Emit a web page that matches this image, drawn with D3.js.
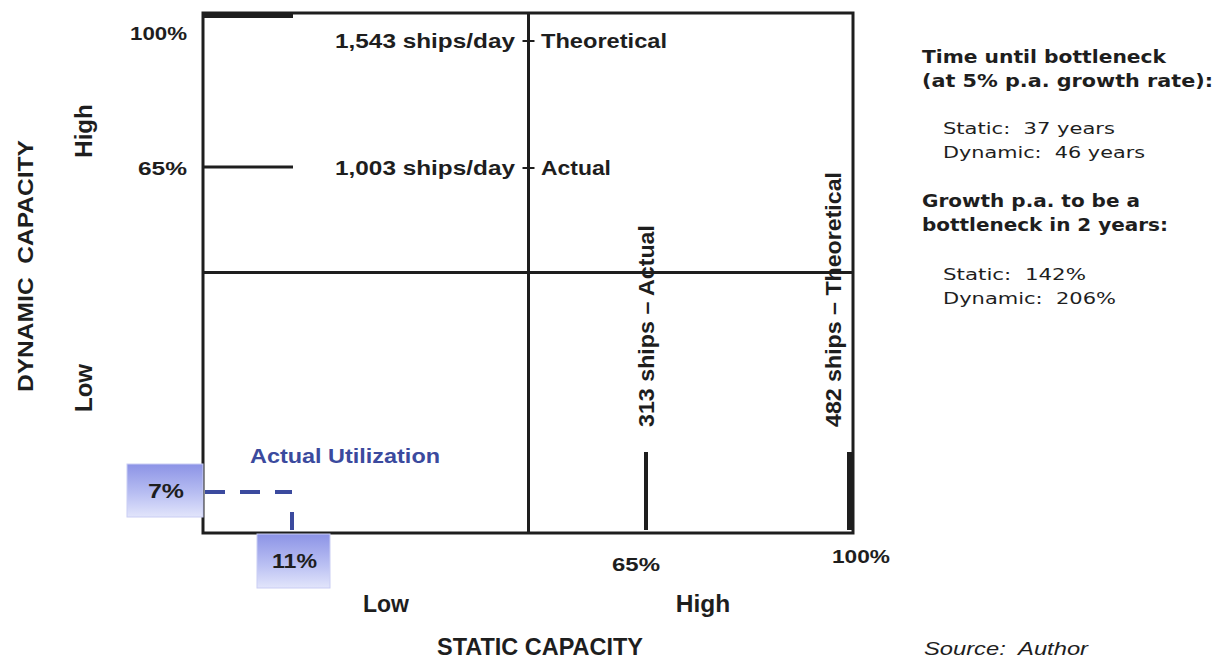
<!DOCTYPE html>
<html>
<head>
<meta charset="utf-8">
<script src="https://cdn.jsdelivr.net/npm/d3@7"></script>
<style>
  html, body { margin: 0; padding: 0; background: #fff; }
  svg { display: block; }
</style>
</head>
<body>
<svg id="chart" width="1221" height="660"></svg>
<script>
// ---------------- DATA ----------------
const staticTickPcts = [65, 100];
const staticTickLabels = ["65%", "100%"];
const staticShips = ["313 ships", "482 ships"];
const staticKinds = ["Actual", "Theoretical"];

const dynamicTickPcts = [100, 65];
const dynamicTickLabels = ["100%", "65%"];
const dynamicShips = ["1,543 ships/day", "1,003 ships/day"];
const dynamicKinds = ["Theoretical", "Actual"];

const utilStaticPct = 11;
const utilDynamicPct = 7;
const utilLabel = "Actual Utilization";

const quadrantLevels = ["Low", "High"];
const xTitle = "STATIC CAPACITY";
const yTitle = "DYNAMIC  CAPACITY";

const sideHeading1 = ["Time until bottleneck", "(at 5% p.a. growth rate):"];
const sideLines1 = ["Static:  37 years", "Dynamic:  46 years"];
const sideHeading2 = ["Growth p.a. to be a", "bottleneck in 2 years:"];
const sideLines2 = ["Static:  142%", "Dynamic:  206%"];
const sourceNote = "Source:  Author";

// ---------------- LAYOUT ----------------
const svg = d3.select("#chart");
const box = { left: 203, top: 13, right: 853, bottom: 533 };
const midX = (box.left + box.right) / 2 + 0.5;
const midY = (box.top + box.bottom) / 2 + 0.5;

// schematic (piecewise) scales
const x = d3.scaleLinear().domain([0, utilStaticPct, 65, 100]).range([box.left, 292, 646, 850]);
const y = d3.scaleLinear().domain([0, utilDynamicPct, 65, 100]).range([box.bottom, 492, 167, 15]);

const ARIAL = "'Liberation Sans', Arial, sans-serif";
const NARROW = "'Liberation Sans Narrow', 'Liberation Sans', Arial, sans-serif";
const VERD = "'DejaVu Sans', Verdana, sans-serif";
const ink = "#1e1e1e";
const blue = "#3b4a9e";

function fit(sel, w) {
  return sel.attr("textLength", w).attr("lengthAdjust", "spacingAndGlyphs");
}

// gradient for percentage boxes
const defs = svg.append("defs");
const grad = defs.append("linearGradient").attr("id", "boxgrad")
  .attr("x1", 0).attr("y1", 0).attr("x2", 0).attr("y2", 1);
grad.append("stop").attr("offset", "0%").attr("stop-color", "#8c93e6");
grad.append("stop").attr("offset", "55%").attr("stop-color", "#b8bef2");
grad.append("stop").attr("offset", "100%").attr("stop-color", "#e2e5fb");

// ---------------- MARKS ----------------
// dynamic capacity markers (horizontal bars at left)
const dynW = [6, 3];
const dynLabelW = [57, 49];
const dynKindW = [126, 70];
dynamicTickPcts.forEach((p, i) => {
  svg.append("line")
    .attr("x1", box.left).attr("x2", x(utilStaticPct) + 1)
    .attr("y1", y(p)).attr("y2", y(p))
    .attr("stroke", ink).attr("stroke-width", dynW[i]);
  fit(svg.append("text")
    .attr("x", 187 - dynLabelW[i]).attr("y", i === 0 ? 40 : y(p) + 8)
    .attr("font-family", ARIAL).attr("font-weight", "bold").attr("font-size", 18.5)
    .attr("fill", ink).text(dynamicTickLabels[i]), dynLabelW[i]);
  const ty = i === 0 ? 48 : y(p) + 8;
  fit(svg.append("text")
    .attr("x", 335).attr("y", ty)
    .attr("font-family", ARIAL).attr("font-weight", "bold").attr("font-size", 19.5)
    .attr("fill", ink).text(dynamicShips[i]), 180);
  svg.append("line")
    .attr("x1", midX - 6).attr("x2", midX + 6)
    .attr("y1", ty - 7).attr("y2", ty - 7)
    .attr("stroke", ink).attr("stroke-width", 2);
  fit(svg.append("text")
    .attr("x", 541).attr("y", ty)
    .attr("font-family", ARIAL).attr("font-weight", "bold").attr("font-size", 19.5)
    .attr("fill", ink).text(dynamicKinds[i]), dynKindW[i]);
});

// static capacity markers (vertical bars at bottom)
const statW = [4, 6];
const statLabelLen = [202, 255];
const statTickW = [48, 58];
const statTickX = [612, 832];
staticTickPcts.forEach((p, i) => {
  svg.append("line")
    .attr("x1", x(p)).attr("x2", x(p))
    .attr("y1", 452).attr("y2", box.bottom - 3)
    .attr("stroke", ink).attr("stroke-width", statW[i]);
  const lx = i === 0 ? x(p) : x(p) - 17;
  fit(svg.append("text")
    .attr("transform", `translate(${lx},427) rotate(-90)`)
    .attr("dy", "0.36em")
    .attr("font-family", ARIAL).attr("font-weight", "bold").attr("font-size", 22)
    .attr("fill", ink).text(staticShips[i] + " \u2013 " + staticKinds[i]), statLabelLen[i]);
  fit(svg.append("text")
    .attr("x", statTickX[i]).attr("y", i === 0 ? 571 : 563)
    .attr("font-family", ARIAL).attr("font-weight", "bold").attr("font-size", 18.5)
    .attr("fill", ink).text(staticTickLabels[i]), statTickW[i]);
});

// box and quadrant lines
svg.append("rect")
  .attr("x", box.left).attr("y", box.top)
  .attr("width", box.right - box.left).attr("height", box.bottom - box.top)
  .attr("fill", "none").attr("stroke", ink).attr("stroke-width", 3);
svg.append("line").attr("x1", midX).attr("x2", midX).attr("y1", box.top).attr("y2", box.bottom)
  .attr("stroke", ink).attr("stroke-width", 3);
svg.append("line").attr("x1", box.left).attr("x2", box.right).attr("y1", midY - 1).attr("y2", midY - 1)
  .attr("stroke", ink).attr("stroke-width", 3);

// actual utilization dashed guides
svg.append("line")
  .attr("x1", box.left + 2).attr("x2", x(utilStaticPct))
  .attr("y1", y(utilDynamicPct)).attr("y2", y(utilDynamicPct))
  .attr("stroke", blue).attr("stroke-width", 4).attr("stroke-dasharray", "20 15");
svg.append("line")
  .attr("x1", x(utilStaticPct)).attr("x2", x(utilStaticPct))
  .attr("y1", 512).attr("y2", box.bottom - 3)
  .attr("stroke", blue).attr("stroke-width", 4);
fit(svg.append("text")
  .attr("x", 250).attr("y", 463)
  .attr("font-family", ARIAL).attr("font-weight", "bold").attr("font-size", 20)
  .attr("fill", blue).text(utilLabel), 190);

// percentage boxes
const boxes = [
  { label: utilDynamicPct + "%", x: 127, y: y(utilDynamicPct) - 28, w: 76, h: 53, tw: 36 },
  { label: utilStaticPct + "%", x: x(utilStaticPct) - 35, y: box.bottom + 1, w: 73, h: 54, tw: 45 }
];
boxes.forEach(b => {
  svg.append("rect").attr("x", b.x).attr("y", b.y).attr("width", b.w).attr("height", b.h)
    .attr("fill", "url(#boxgrad)").attr("stroke", "#c9cdf3").attr("stroke-width", 1);
  fit(svg.append("text").attr("x", b.x + b.w / 2 - b.tw / 2 + 1).attr("y", b.y + b.h / 2 + 7)
    .attr("font-family", ARIAL).attr("font-weight", "bold").attr("font-size", 19.5)
    .attr("fill", ink).text(b.label), b.tw);
});

// axis level labels
svg.append("text").attr("x", 386).attr("y", 612).attr("text-anchor", "middle")
  .attr("font-family", NARROW).attr("font-weight", "bold").attr("font-size", 23)
  .attr("fill", ink).text(quadrantLevels[0]);
svg.append("text").attr("x", 703).attr("y", 612).attr("text-anchor", "middle")
  .attr("font-family", NARROW).attr("font-weight", "bold").attr("font-size", 24.5)
  .attr("fill", ink).text(quadrantLevels[1]);
fit(svg.append("text").attr("x", 437).attr("y", 655)
  .attr("font-family", NARROW).attr("font-weight", "bold").attr("font-size", 23)
  .attr("fill", ink).text(xTitle), 206);

svg.append("text").attr("transform", "translate(92,131) rotate(-90)").attr("text-anchor", "middle")
  .attr("font-family", ARIAL).attr("font-weight", "bold").attr("font-size", 24)
  .attr("fill", ink).text(quadrantLevels[1]);
svg.append("text").attr("transform", "translate(92,388) rotate(-90)").attr("text-anchor", "middle")
  .attr("font-family", ARIAL).attr("font-weight", "bold").attr("font-size", 24)
  .attr("fill", ink).text(quadrantLevels[0]);
fit(svg.append("text").attr("transform", "translate(33,392) rotate(-90)")
  .attr("font-family", ARIAL).attr("font-weight", "bold").attr("font-size", 22)
  .style("white-space", "pre")
  .attr("fill", ink).text(yTitle), 252);

// side panel
const side = svg.append("g").attr("font-family", VERD).attr("fill", ink);
function block(lines, widths, x0, ys, bold, size) {
  lines.forEach((t, i) => fit(side.append("text").attr("x", x0).attr("y", ys[i])
    .attr("font-weight", bold ? "bold" : "normal").attr("font-size", size)
    .style("white-space", "pre").text(t), widths[i]));
}
block(sideHeading1, [244, 291], 922, [63, 87], true, 17.5);
block(sideLines1, [172, 202], 943, [134, 158], false, 16.5);
block(sideHeading2, [218, 246], 922, [207, 231], true, 17.5);
block(sideLines2, [143, 173], 943, [280, 304], false, 16.5);

fit(svg.append("text").attr("x", 924).attr("y", 655)
  .attr("font-family", ARIAL).attr("font-style", "italic").attr("font-size", 19)
  .style("white-space", "pre").attr("fill", ink).text(sourceNote), 164);
</script>
</body>
</html>
